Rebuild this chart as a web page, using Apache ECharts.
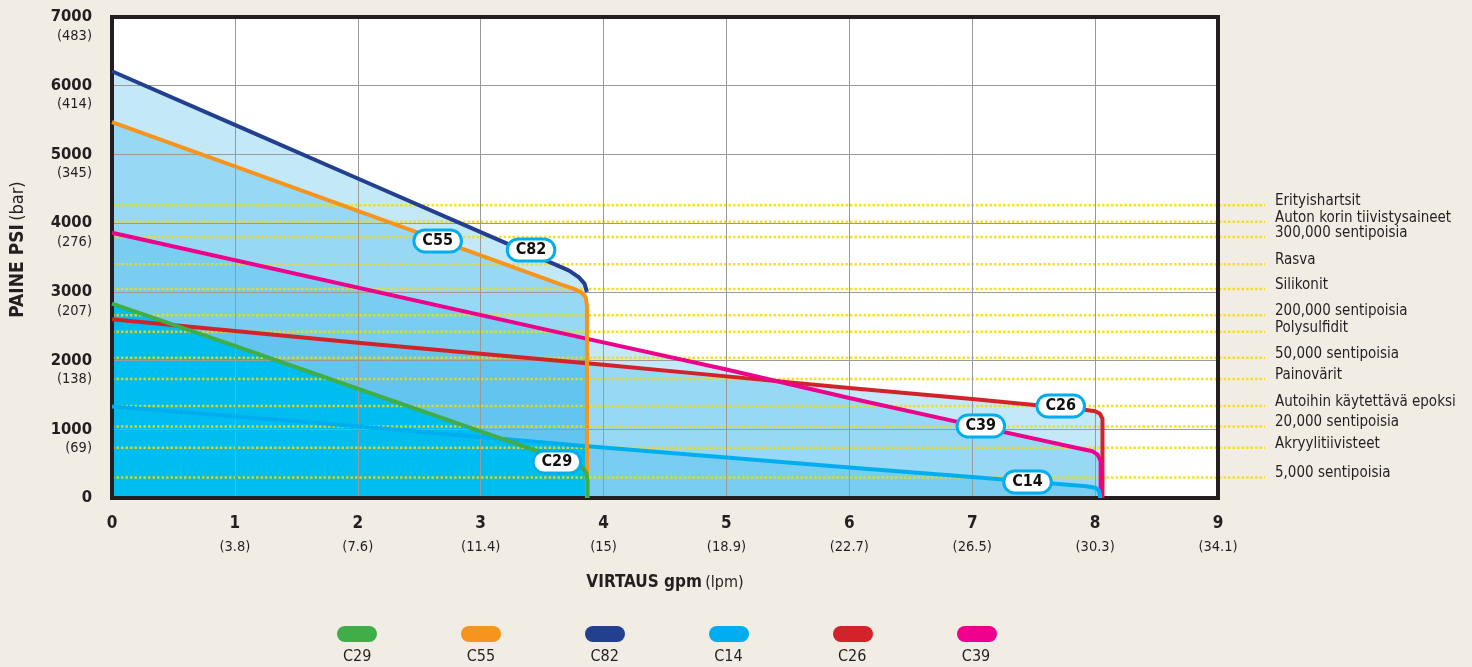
<!DOCTYPE html>
<html><head><meta charset="utf-8">
<script src="https://cdn.jsdelivr.net/npm/echarts@6/dist/echarts.min.js"></script>
<style>html,body{margin:0;padding:0;background:#f1ede5;}#c{width:1472px;height:667px;}</style>
</head><body><div id="c"></div>
<script>
// ---- data ----
const xTicks = [0, 1, 2, 3, 4, 5, 6, 7, 8, 9];
const xLpm = ['', '(3.8)', '(7.6)', '(11.4)', '(15)', '(18.9)', '(22.7)', '(26.5)', '(30.3)', '(34.1)'];
const yTicks = [0, 1000, 2000, 3000, 4000, 5000, 6000, 7000];
const yBar = ['', '(69)', '(138)', '(207)', '(276)', '(345)', '(414)', '(483)'];

const seriesNames = ['C29', 'C55', 'C82', 'C14', 'C26', 'C39'];
const seriesColors = ['#3fae49', '#f7941d', '#233f8f', '#00aeef', '#d2232a', '#ec008c'];

const c29 = [[0,2830],[1,2215],[2,1590],[3,970],[3.7,535],[3.79,478],[3.835,430],[3.86,360],[3.87,250],[3.87,0]];
const c55 = [[0,5470],[1,4825],[2,4180],[3,3530],[3.65,3110],[3.75,3050],[3.82,2990],[3.855,2920],[3.865,2800],[3.865,0]];
const c82 = [[0,6210],[1,5430],[2,4650],[3,3870],[3.59,3410],[3.72,3310],[3.8,3210],[3.845,3120],[3.865,3000]];
const c14 = [[0,1330],[1.63,1100],[3.87,752],[3.97,740],[5,590],[6,445],[7,305],[7.93,170],[8.0,150],[8.03,110],[8.04,40],[8.04,0]];
const c26 = [[0,2600],[1,2430],[2,2260],[3,2100],[4,1940],[5,1770],[6,1600],[7,1440],[7.93,1282],[8.0,1262],[8.04,1225],[8.06,1150],[8.06,0]];
const c39 = [[0,3860],[3.86,2320],[5,1870],[6,1455],[7,1060],[7.9,710],[7.98,680],[8.02,630],[8.045,540],[8.045,0]];

const refNames = ['Erityishartsit', 'Auton korin tiivistysaineet', '300,000 sentipoisia', 'Rasva', 'Silikonit',
  '200,000 sentipoisia', 'Polysulfidit', '50,000 sentipoisia', 'Painovärit', 'Autoihin käytettävä epoksi',
  '20,000 sentipoisia', 'Akryylitiivisteet', '5,000 sentipoisia'];
const refLevels = [4260, 4020, 3800, 3400, 3040, 2660, 2420, 2040, 1730, 1340, 1040, 730, 300];
const refEndX = 9.38;

const tagNames = ['C55', 'C82', 'C29', 'C26', 'C39', 'C14'];
const tagPoints = [[2.65,3741],[3.41,3610],[3.62,524],[7.72,1339],[7.07,1048],[7.45,233]];

// ---- chart ----
const F = "'DejaVu Sans Condensed','Liberation Sans Narrow','Liberation Sans',sans-serif";
const INK = '#231f20';
const byName = { C29: c29, C55: c55, C82: c82, C14: c14, C26: c26, C39: c39 };
const colorOf = n => seriesColors[seriesNames.indexOf(n)];
const c29End = c29[c29.length - 1][0];

const series = [];
// areas
const areaOrder = ['C82', 'C55', 'C39', 'C26', 'C14'];
areaOrder.forEach(n => {
  series.push({
    type: 'line', name: 'area-' + n, data: byName[n], symbol: 'none', silent: true, z: 1,
    lineStyle: { width: 0 },
    areaStyle: { color: 'rgba(40,176,232,0.28)', opacity: 1 }
  });
});
// saturated pump zone (under C29 and C14 up to the C29 limit)
series.push({
  type: 'line', name: 'area-C14-low', data: c14.filter(p => p[0] <= c29End).concat([[c29End, 0]]),
  symbol: 'none', silent: true, z: 1, lineStyle: { width: 0 }, areaStyle: { color: '#00bdf0', opacity: 1 }
});
series.push({
  type: 'line', name: 'area-C29', data: c29, symbol: 'none', silent: true, z: 1,
  lineStyle: { width: 0 }, areaStyle: { color: '#00bdf0', opacity: 1 }
});
// reference dotted lines (on an overlay grid that extends past the plot)
refNames.forEach((n, i) => {
  series.push({
    type: 'line', name: n, xAxisIndex: 2, yAxisIndex: 2,
    data: [[0, refLevels[i]], [refEndX, refLevels[i]]], symbol: 'none', silent: true, z: 2,
    lineStyle: { color: 'rgba(247,217,0,0.85)', width: 2.5, type: [2.5, 2] },
    endLabel: { show: true, formatter: n, distance: 10, offset: [0, -4], color: INK, fontFamily: F, fontSize: 15 }
  });
});
// curves
const lineOrder = ['C26', 'C39', 'C14', 'C55', 'C82', 'C29'];
lineOrder.forEach(n => {
  series.push({
    type: 'line', name: n, data: byName[n], symbol: 'none', silent: true, z: 4,
    lineStyle: { color: colorOf(n), width: 4, join: 'round' },
    itemStyle: { color: colorOf(n) }
  });
});
// tags
series.push({
  type: 'scatter', name: 'tags', z: 5, silent: true, symbolSize: 1, itemStyle: { color: '#ffffff', opacity: 1 },
  data: tagPoints.map((p, i) => ({ value: p, name: tagNames[i] })),
  label: {
    show: true, position: 'inside', formatter: p => p.name, color: '#111', fontFamily: F, fontWeight: 'bold', fontSize: 16,
    opacity: 1, textBorderWidth: 0, backgroundColor: '#ffffff', borderColor: '#00aeef', borderWidth: 3, borderRadius: 10,
    padding: [2, 7, 1, 7]
  }
});

const pill = 'path://M8,0 L32,0 A8,8 0 0 1 32,16 L8,16 A8,8 0 0 1 8,0 Z';
const hiddenAxis = { show: false, type: 'value' };

const option = {
  backgroundColor: '#f1ede5',
  animation: false,
  grid: [
    { left: 112, top: 17, width: 1106, height: 481, show: true, backgroundColor: '#fff', borderWidth: 0,
      containLabel: false, outerBoundsMode: 'none' },
    { left: 112, top: 17, width: 1106, height: 481, show: false, containLabel: false, outerBoundsMode: 'none' },
    { left: 112, top: 17, width: 1153, height: 481, show: false, containLabel: false, outerBoundsMode: 'none' }
  ],
  legend: [
    { data: seriesNames, left: 337, top: 626, padding: 0, itemWidth: 40, itemHeight: 16, itemGap: 84, icon: pill,
      formatter: () => '', selectedMode: false },
    { data: seriesNames, left: 338, top: 649, padding: 0, itemWidth: 0, itemHeight: 16, itemGap: 90.4, icon: 'rect',
      itemStyle: { opacity: 0 }, selectedMode: false,
      textStyle: { color: INK, fontFamily: F, fontSize: 16 } }
  ],
  xAxis: [
    { type: 'value', min: 0, max: 9, interval: 1, z: 3, gridIndex: 0,
      axisLine: { show: true, onZero: false, lineStyle: { color: INK, width: 4, cap: 'square' } },
      axisTick: { show: false },
      splitLine: { show: true, lineStyle: { color: '#9a9a9a', width: 1 } },
      axisLabel: { margin: 15, fontFamily: F, color: INK,
        formatter: v => '{a|' + v + '}\n{b|' + (xLpm[xTicks.indexOf(v)] || ' ') + '}',
        rich: { a: { fontFamily: F, fontWeight: 'bold', fontSize: 17, lineHeight: 22, color: INK },
                b: { fontFamily: F, fontSize: 14.5, lineHeight: 24, color: INK } } },
      name: '{n|VIRTAUS gpm} {m|(lpm)}', nameLocation: 'middle', nameGap: 76,
      nameTextStyle: { rich: { n: { fontFamily: F, fontWeight: 'bold', fontSize: 17, color: INK },
                               m: { fontFamily: F, fontSize: 16, color: INK } } } },
    { type: 'value', min: 0, max: 9, interval: 1, position: 'top', z: 3, gridIndex: 1,
      axisLine: { show: true, onZero: false, lineStyle: { color: INK, width: 4, cap: 'square' } },
      axisTick: { show: false }, splitLine: { show: false }, axisLabel: { show: false } },
    Object.assign({ gridIndex: 2, min: 0, max: refEndX }, hiddenAxis)
  ],
  yAxis: [
    { type: 'value', min: 0, max: 7000, interval: 1000, z: 3, gridIndex: 0,
      axisLine: { show: true, onZero: false, lineStyle: { color: INK, width: 4, cap: 'square' } },
      axisTick: { show: false },
      splitLine: { show: true, lineStyle: { color: '#9a9a9a', width: 1 } },
      axisLabel: { margin: 20, align: 'right',
        formatter: v => '{b| }\n{a|' + v + '}\n{b|' + (yBar[yTicks.indexOf(v)] || ' ') + '}',
        rich: { a: { fontFamily: F, fontWeight: 'bold', fontSize: 16.5, lineHeight: 19, color: INK, align: 'right' },
                b: { fontFamily: F, fontSize: 14.5, lineHeight: 19, color: INK, align: 'right' } } },
      name: '{n|PAINE PSI} {m|(bar)}', nameLocation: 'middle', nameGap: 84, nameRotate: 90,
      nameTextStyle: { padding: [0, 0, 0, 16],
        rich: { n: { fontFamily: F, fontWeight: 'bold', fontSize: 19, color: INK },
                m: { fontFamily: F, fontSize: 18, color: INK } } } },
    { type: 'value', min: 0, max: 7000, interval: 1000, position: 'right', z: 3, gridIndex: 1,
      axisLine: { show: true, onZero: false, lineStyle: { color: INK, width: 4, cap: 'square' } },
      axisTick: { show: false }, splitLine: { show: false }, axisLabel: { show: false } },
    Object.assign({ gridIndex: 2, min: 0, max: 7000 }, hiddenAxis)
  ],
  series: series
};
const chart = echarts.init(document.getElementById('c'), null, { renderer: 'canvas' });
chart.setOption(option);
</script></body></html>
